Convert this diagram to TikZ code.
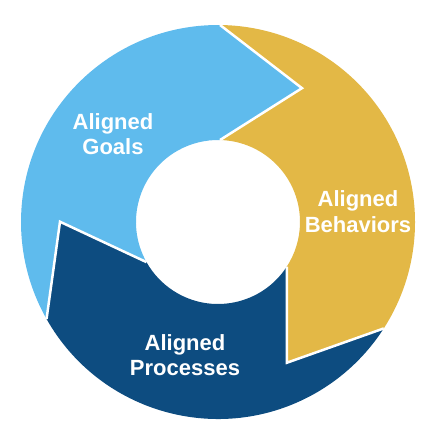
\documentclass[tikz,border=0pt]{standalone}
\usepackage{fontspec}
\setmainfont{Liberation Sans}
\definecolor{goalsblue}{HTML}{5FBBED}
\definecolor{behavyellow}{HTML}{E3B846}
\definecolor{procblue}{HTML}{0D4C80}
\begin{document}
\begin{tikzpicture}[x=1pt,y=1pt,
  sep/.style={draw=white,line width=2.5pt,line join=miter},
  lbl/.style={text=white,font=\bfseries\fontsize{22}{25.5}\selectfont,align=center,inner sep=0pt}]
\useasboundingbox (0,0) rectangle (431,448);
\begin{scope}[shift={(218,226)}]
  \coordinate (A1) at (89.4:197pt);
  \coordinate (T1) at (57.9:158pt);
  \coordinate (I1) at (88.6:82pt);
  \coordinate (A2) at (-32.7:197pt);
  \coordinate (T2) at (-63.9:156.7pt);
  \coordinate (I2) at (-32.9:82pt);
  \coordinate (A3) at (209.5:197pt);
  \coordinate (T3) at (179.9:158pt);
  \coordinate (I3) at (209.3:82pt);
  % Goals
  \fill[goalsblue] (A1) arc[start angle=89.4,end angle=209.5,radius=197pt]
    -- (T3) -- (I3) arc[start angle=209.3,end angle=88.6,radius=82pt]
    -- (T1) -- cycle;
  % Behaviors
  \fill[behavyellow] (A2) arc[start angle=-32.7,end angle=89.4,radius=197pt]
    -- (T1) -- (I1) arc[start angle=88.6,end angle=-32.9,radius=82pt]
    -- (T2) -- cycle;
  % Processes
  \fill[procblue] (A3) arc[start angle=209.5,end angle=327.3,radius=197pt]
    -- (T2) -- (I2) arc[start angle=327.1,end angle=209.3,radius=82pt]
    -- (T3) -- cycle;
  \draw[sep] (A1) -- (T1) -- (I1);
  \draw[sep] (A2) -- (T2) -- (I2);
  \draw[sep] (A3) -- (T3) -- (I3);
\end{scope}
\node[lbl] (goals) at (113,314) {Aligned\\Goals};
\node[lbl] (behav) at (358,236.5) {Aligned\\Behaviors};
\node[lbl] (proc) at (185,93) {Aligned\\Processes};
\end{tikzpicture}
\end{document}
